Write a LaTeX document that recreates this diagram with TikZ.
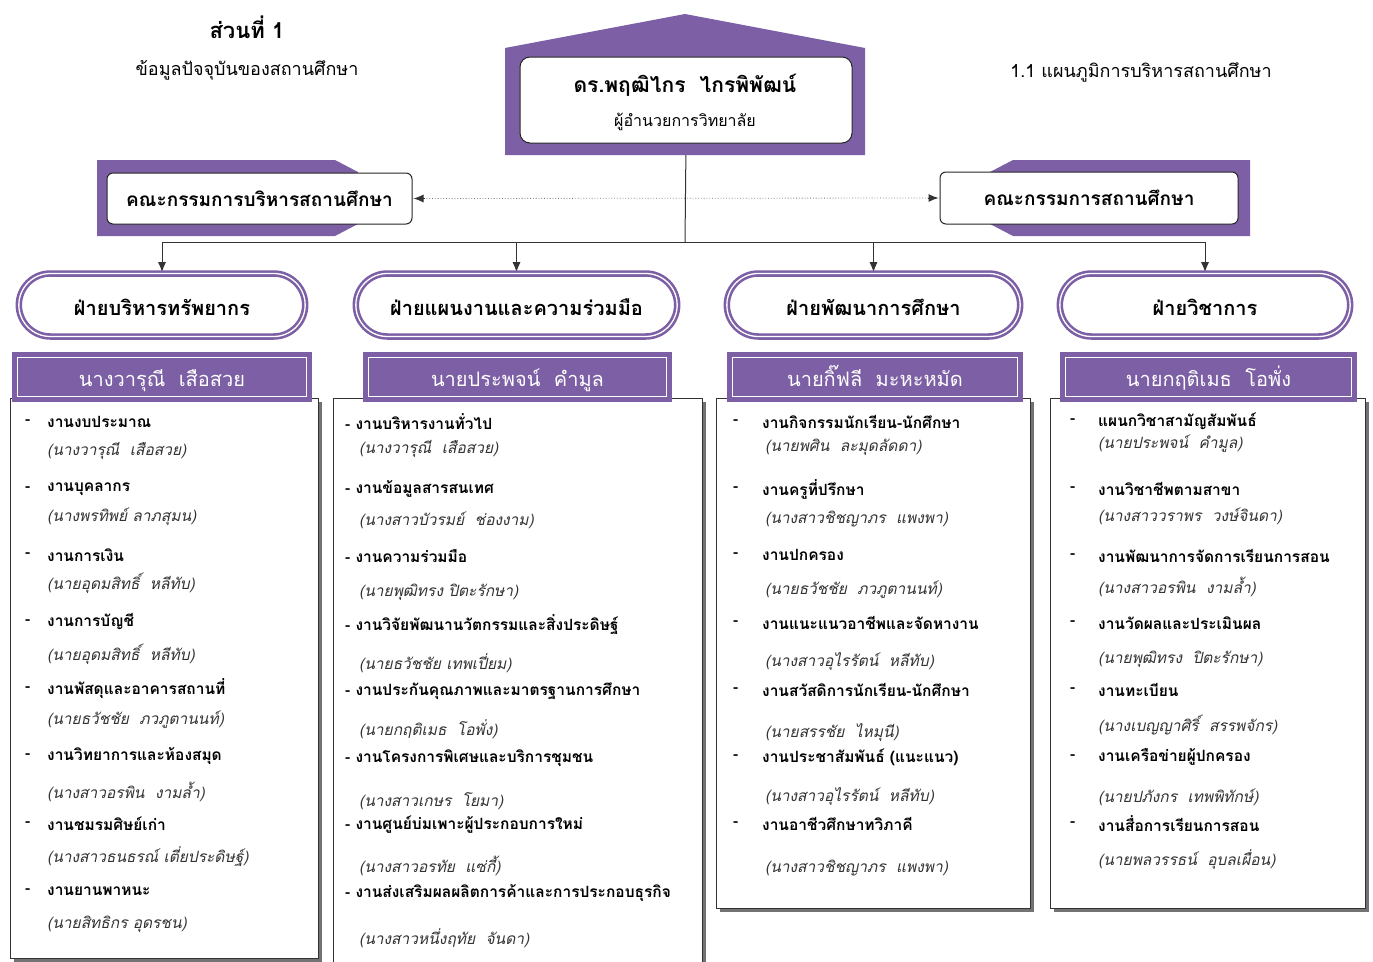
\documentclass[tikz,border=0pt]{standalone}
\usepackage{fontspec}
\setmainfont[Script=Thai]{Loma}
\usetikzlibrary{arrows.meta,shapes.misc,shadows,backgrounds}
\definecolor{purp}{RGB}{124,95,164}

\tikzset{
  head/.style={rounded rectangle, draw=purp, double=white, double distance=1.3pt,
    line width=2.6pt, fill=white, minimum height=63pt, text height=21pt, text depth=0pt,
    font=\fontsize{20}{24}\selectfont\bfseries},
  namebox/.style={draw=purp, double=white, double distance=1pt, line width=5pt,
    fill=purp, text=white, minimum height=39pt, text height=19.5pt, text depth=0.5pt,
    font=\fontsize{20}{24}\selectfont},
  listbox/.style={draw=black!80, line width=1pt, fill=white,
    drop shadow={shadow xshift=4pt, shadow yshift=-4pt, fill=black!55, opacity=1}},
  board/.style={draw=black!85, line width=1pt, fill=white, rounded corners=6pt,
    font=\fontsize{19}{22}\selectfont\bfseries},
  job/.style={anchor=west, inner sep=0pt, font=\fontsize{15.5}{18}\selectfont\bfseries},
  who/.style={anchor=west, inner sep=0pt, text=black!80,
    font=\fontsize{15.5}{18}\selectfont\itshape},
  link/.style={draw=black!80, line width=1pt},
  tip/.style={-{Latex[length=10pt,width=8pt]}},
  dotlink/.style={draw=black!55, dotted, line width=0.8pt}
}

\begin{document}
\begin{tikzpicture}[x=1pt,y=-1pt]
\useasboundingbox (0,0) rectangle (1373,961);

% titles
\node[font=\fontsize{22}{26}\selectfont\bfseries] (part) at (247,27) {ส่วนที่ 1};
\node[font=\fontsize{18}{22}\selectfont] (partsub) at (247,70) {ข้อมูลปัจจุบันของสถานศึกษา};
\node[font=\fontsize{18}{22}\selectfont] (chart) at (1141,72) {1.1 แผนภูมิการบริหารสถานศึกษา};

% director
\fill[purp] (505,48) -- (685,14) -- (865,48) -- (865,155) -- (505,155) -- cycle;
\node[draw=black!85, line width=1pt, fill=white, rounded corners=10pt,
  minimum width=332pt, minimum height=86pt] (dir) at (686,100) {};
\node[font=\fontsize{21}{24}\selectfont\bfseries] (dirname) at (685,85) {ดร.พฤฒิไกร~~ไกรพิพัฒน์};
\node[font=\fontsize{16}{19}\selectfont] (dirtitle) at (685,122) {ผู้อำนวยการวิทยาลัย};

% committees
\fill[purp] (97,160) -- (335,160) -- (358,172) -- (358,224) -- (335,236) -- (97,236) -- cycle;
\fill[purp] (1250,160) -- (1013,160) -- (990,172) -- (990,224) -- (1013,236) -- (1250,236) -- cycle;
\node[board, minimum width=305pt, minimum height=51pt] (c1) at (259.5,198.5) {คณะกรรมการบริหารสถานศึกษา};
\node[board, minimum width=298pt, minimum height=52pt] (c2) at (1089,198) {คณะกรรมการสถานศึกษา};

% divisions
\node[head, minimum width=293pt] (f1) at (162,305) {ฝ่ายบริหารทรัพยากร};
\node[head, minimum width=328pt] (f2) at (516.5,305) {ฝ่ายแผนงานและความร่วมมือ};
\node[head, minimum width=300pt] (f3) at (873.5,305) {ฝ่ายพัฒนาการศึกษา};
\node[head, minimum width=297pt] (f4) at (1205,305) {ฝ่ายวิชาการ};

\coordinate (j) at (685,242);
\begin{scope}[on background layer]
\draw[link] (dir.south) -- (j);
\draw[link] (f1 |- j) -- (f4 |- j);
\draw[link, tip] (f1 |- j) -- (f1.north);
\draw[link, tip] (f2 |- j) -- (f2.north);
\draw[link, tip] (f3 |- j) -- (f3.north);
\draw[link, tip] (f4 |- j) -- (f4.north);
\draw[dotlink] (c1.east) -- (c2.west);
\draw[link, tip] ([xshift=12pt]c1.east) -- ([xshift=1pt]c1.east);
\draw[link, tip] ([xshift=-12pt]c2.west) -- ([xshift=-1pt]c2.west);
\end{scope}

% task lists
\node[listbox, minimum width=308pt, minimum height=560pt] (l1) at (164,678) {};
\node[listbox, minimum width=369pt, minimum height=577pt] (l2) at (517.5,686.5) {};
\node[listbox, minimum width=314pt, minimum height=510pt] (l3) at (873,653) {};
\node[listbox, minimum width=315pt, minimum height=510pt] (l4) at (1207.5,653) {};

\node[namebox, minimum width=289pt] (h1) at (162,377) {นางวารุณี~~เสือสวย};
\node[namebox, minimum width=298pt] (h2) at (517.5,377) {นายประพจน์~~คำมูล};
\node[namebox, minimum width=285pt] (h3) at (875,377) {นายกิ๊ฟลี~~มะหะหมัด};
\node[namebox, minimum width=286pt] (h4) at (1208.5,377) {นายกฤติเมธ~~โอพั่ง};

% resources
\node[job] (a1d) at (25,422) {-};
\node[job] (a1) at (47,422) {งานงบประมาณ};
\node[who] (a1w) at (47,451) {(นางวารุณี~~เสือสวย)};
\node[job] (a2d) at (25,489) {-};
\node[job] (a2) at (47,489) {งานบุคลากร};
\node[who] (a2w) at (47,517) {(นางพรทิพย์ ลาภสุมน)};
\node[job] (a3d) at (25,555) {-};
\node[job] (a3) at (47,555) {งานการเงิน};
\node[who] (a3w) at (47,583) {(นายอุดมสิทธิ์~~หลีทับ)};
\node[job] (a4d) at (25,622) {-};
\node[job] (a4) at (47,622) {งานการบัญชี};
\node[who] (a4w) at (47,654) {(นายอุดมสิทธิ์~~หลีทับ)};
\node[job] (a5d) at (25,689) {-};
\node[job] (a5) at (47,689) {งานพัสดุและอาคารสถานที่};
\node[who] (a5w) at (47,720) {(นายธวัชชัย~~ภวภูตานนท์)};
\node[job] (a6d) at (25,756) {-};
\node[job] (a6) at (47,756) {งานวิทยาการและห้องสมุด};
\node[who] (a6w) at (47,792) {(นางสาวอรพิน~~งามล้ำ)};
\node[job] (a7d) at (25,824) {-};
\node[job] (a7) at (47,824) {งานชมรมศิษย์เก่า};
\node[who] (a7w) at (47,857) {(นางสาวธนธรณ์ เตี่ยประดิษฐ์)};
\node[job] (a8d) at (25,891) {-};
\node[job] (a8) at (47,891) {งานยานพาหนะ};
\node[who] (a8w) at (47,924) {(นายสิทธิกร อุดรชน)};

% planning
\node[job] (b1) at (345,422) {- งานบริหารงานทั่วไป};
\node[who] (b1w) at (359,449) {(นางวารุณี~~เสือสวย)};
\node[job] (b2) at (345,489) {- งานข้อมูลสารสนเทศ};
\node[who] (b2w) at (359,520) {(นางสาวบัวรมย์~~ช่องงาม)};
\node[job] (b3) at (345,556) {- งานความร่วมมือ};
\node[who] (b3w) at (359,592) {(นายพุฒิทรง ปิตะรักษา)};
\node[job] (b4) at (345,625) {- งานวิจัยพัฒนานวัตกรรมและสิ่งประดิษฐ์};
\node[who] (b4w) at (359,663) {(นายธวัชชัย เทพเปี่ยม)};
\node[job] (b5) at (345,691) {- งานประกันคุณภาพและมาตรฐานการศึกษา};
\node[who] (b5w) at (359,729) {(นายกฤติเมธ~~โอพั่ง)};
\node[job] (b6) at (345,758) {- งานโครงการพิเศษและบริการชุมชน};
\node[who] (b6w) at (359,801) {(นางสาวเกษร~~โยมา)};
\node[job] (b7) at (345,825) {- งานศูนย์บ่มเพาะผู้ประกอบการใหม่};
\node[who] (b7w) at (359,866) {(นางสาวอรทัย~~แซ่กี้)};
\node[job] (b8) at (345,893) {- งานส่งเสริมผลผลิตการค้าและการประกอบธุรกิจ};
\node[who] (b8w) at (359,938) {(นางสาวหนึ่งฤทัย~~จันดา)};

% development
\node[job] (c1d) at (733,422) {-};
\node[job] (d1) at (762,422) {งานกิจกรรมนักเรียน-นักศึกษา};
\node[who] (d1w) at (765,447) {(นายพศิน~~ละมุดลัดดา)};
\node[job] (c2d) at (733,489) {-};
\node[job] (d2) at (762,489) {งานครูที่ปรึกษา};
\node[who] (d2w) at (765,519) {(นางสาวชิชญาภร~~แพงพา)};
\node[job] (c3d) at (733,555) {-};
\node[job] (d3) at (762,555) {งานปกครอง};
\node[who] (d3w) at (765,590) {(นายธวัชชัย~~ภวภูตานนท์)};
\node[job] (c4d) at (733,623) {-};
\node[job] (d4) at (762,623) {งานแนะแนวอาชีพและจัดหางาน};
\node[who] (d4w) at (765,662) {(นางสาวอุไรรัตน์~~หลีทับ)};
\node[job] (c5d) at (733,690) {-};
\node[job] (d5) at (762,690) {งานสวัสดิการนักเรียน-นักศึกษา};
\node[who] (d5w) at (765,733) {(นายสรรชัย~~ไหมุนี)};
\node[job] (c6d) at (733,757) {-};
\node[job] (d6) at (762,757) {งานประชาสัมพันธ์ (แนะแนว)};
\node[who] (d6w) at (765,797) {(นางสาวอุไรรัตน์~~หลีทับ)};
\node[job] (c7d) at (733,824) {-};
\node[job] (d7) at (762,824) {งานอาชีวศึกษาทวิภาคี};
\node[who] (d7w) at (765,868) {(นางสาวชิชญาภร~~แพงพา)};

% academic
\node[job] (e1d) at (1070,421) {-};
\node[job] (e1) at (1098,421) {แผนกวิชาสามัญสัมพันธ์};
\node[who] (e1w) at (1098,444) {(นายประพจน์~~คำมูล)};
\node[job] (e2d) at (1070,489) {-};
\node[job] (e2) at (1098,489) {งานวิชาชีพตามสาขา};
\node[who] (e2w) at (1098,516) {(นางสาววราพร~~วงษ์จินดา)};
\node[job] (e3d) at (1070,556) {-};
\node[job] (e3) at (1098,556) {งานพัฒนาการจัดการเรียนการสอน};
\node[who] (e3w) at (1098,587) {(นางสาวอรพิน~~งามล้ำ)};
\node[job] (e4d) at (1070,623) {-};
\node[job] (e4) at (1098,623) {งานวัดผลและประเมินผล};
\node[who] (e4w) at (1098,659) {(นายพุฒิทรง~~ปิตะรักษา)};
\node[job] (e5d) at (1070,690) {-};
\node[job] (e5) at (1098,690) {งานทะเบียน};
\node[who] (e5w) at (1098,725) {(นางเบญญาศิริ์~~สรรพจักร)};
\node[job] (e6d) at (1070,757) {-};
\node[job] (e6) at (1098,757) {งานเครือข่ายผู้ปกครอง};
\node[who] (e6w) at (1098,797) {(นายปภังกร~~เทพพิทักษ์)};
\node[job] (e7d) at (1070,824) {-};
\node[job] (e7) at (1098,824) {งานสื่อการเรียนการสอน};
\node[who] (e7w) at (1098,860) {(นายพลวรรธน์~~อุบลเผื่อน)};
\end{tikzpicture}
\end{document}
